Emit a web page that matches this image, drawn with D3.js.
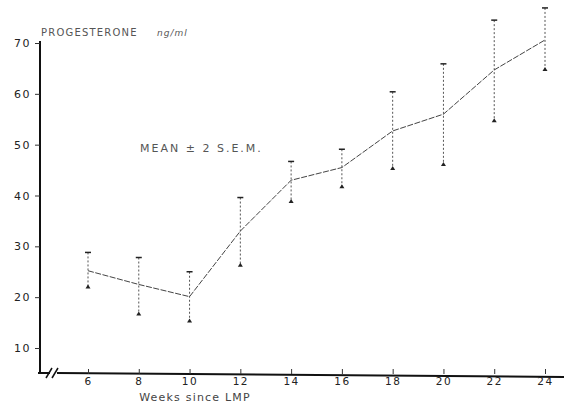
<!DOCTYPE html>
<html>
<head>
<meta charset="utf-8">
<script src="https://cdn.jsdelivr.net/npm/d3@7"></script>
<style>
  body { margin: 0; background: #fff; }
  text { font-family: "DejaVu Sans", sans-serif; }
</style>
</head>
<body>
<svg id="chart" width="564" height="406"></svg>
<script>
// weeks since LMP, mean progesterone and the ends of the +-2 SEM bars
var weeks = [6, 8, 10, 12, 14, 16, 18, 20, 22, 24]
var means = [25.2, 22.5, 20.1, 33.0, 43.0, 45.5, 52.7, 56.0, 64.7, 70.6]
var upper = [28.8, 27.8, 25.0, 39.6, 46.7, 49.1, 60.4, 65.9, 74.5, 76.9]
var lower = [21.9, 16.6, 15.2, 26.2, 38.7, 41.6, 45.2, 46.0, 54.6, 64.7]
var yTicks = [10, 20, 30, 40, 50, 60, 70]

var svg = d3.select("#chart")

var x = d3.scaleLinear().domain([6, 24]).range([88, 545])
var y = d3.scaleLinear().domain([10, 70]).range([348, 43])

var axisY = 373

// y axis
svg.append("line")
    .attr("x1", 40).attr("x2", 40)
    .attr("y1", 41).attr("y2", axisY)
    .attr("stroke", "#111").attr("stroke-width", 2)

var gy = svg.append("g").attr("transform", "translate(40,0)")
    .call(d3.axisLeft(y).tickValues(yTicks).tickSize(5).tickSizeOuter(0))
gy.select(".domain").remove()
gy.selectAll(".tick line").attr("stroke", "#333")
gy.selectAll(".tick text")
    .attr("font-size", 11).attr("fill", "#222").attr("dx", -1)
    .attr("letter-spacing", 1.5)

// x axis (drawn with a break near the origin)
svg.append("line")
    .attr("x1", 38).attr("x2", 50)
    .attr("y1", axisY).attr("y2", axisY)
    .attr("stroke", "#111").attr("stroke-width", 2)
svg.append("line")
    .attr("x1", 57).attr("x2", 564)
    .attr("y1", axisY).attr("y2", axisY + 4)
    .attr("stroke", "#111").attr("stroke-width", 2)
;[48, 54].forEach(function (bx) {
    svg.append("line")
        .attr("x1", bx - 2).attr("x2", bx + 4)
        .attr("y1", axisY + 5).attr("y2", axisY - 5)
        .attr("stroke", "#111").attr("stroke-width", 1.5)
})

var gx = svg.append("g").attr("transform", "translate(0," + (axisY + 1) + ")")
    .call(d3.axisTop(x).tickValues(weeks).tickSize(5).tickSizeOuter(0))
gx.select(".domain").remove()
gx.selectAll(".tick line").attr("stroke", "#333")
gx.selectAll(".tick text")
    .attr("font-size", 10.5).attr("fill", "#222").attr("y", 11)
    .attr("letter-spacing", 1.5)

// error bars
var bars = svg.append("g")
weeks.forEach(function (w, i) {
    var cx = x(w)
    bars.append("line")
        .attr("x1", cx).attr("x2", cx)
        .attr("y1", y(upper[i])).attr("y2", y(lower[i]))
        .attr("stroke", "#555").attr("stroke-width", 1)
        .attr("stroke-dasharray", "2,2")
    bars.append("line")
        .attr("x1", cx - 3).attr("x2", cx + 3)
        .attr("y1", y(upper[i])).attr("y2", y(upper[i]))
        .attr("stroke", "#222").attr("stroke-width", 1.5)
    bars.append("path")
        .attr("d", "M" + (cx - 2.5) + "," + (y(lower[i]) + 1) +
            "L" + (cx + 2.5) + "," + (y(lower[i]) + 1) +
            "L" + cx + "," + (y(lower[i]) - 3) + "Z")
        .attr("fill", "#222")
})

// mean line
var line = d3.line().x(function (d, i) { return x(weeks[i]) }).y(function (d) { return y(d) })
svg.append("path")
    .datum(means)
    .attr("d", line)
    .attr("fill", "none")
    .attr("stroke", "#444")
    .attr("stroke-width", 1)
    .attr("stroke-dasharray", "6,1.5")

// labels
svg.append("text")
    .attr("x", 41).attr("y", 36)
    .attr("font-size", 10).attr("fill", "#555")
    .attr("letter-spacing", 1.2)
    .text("PROGESTERONE")
svg.append("text")
    .attr("x", 157).attr("y", 36)
    .attr("font-size", 9).attr("font-style", "italic").attr("fill", "#555")
    .attr("letter-spacing", 1)
    .text("ng/ml")
svg.append("text")
    .attr("x", 140).attr("y", 152)
    .attr("font-size", 11).attr("fill", "#555")
    .attr("letter-spacing", 2)
    .text("MEAN \u00b1 2 S.E.M.")
svg.append("text")
    .attr("x", 195).attr("y", 401)
    .attr("text-anchor", "middle")
    .attr("font-size", 11).attr("fill", "#444")
    .attr("letter-spacing", 1.2)
    .text("Weeks since LMP")
</script>
</body>
</html>
